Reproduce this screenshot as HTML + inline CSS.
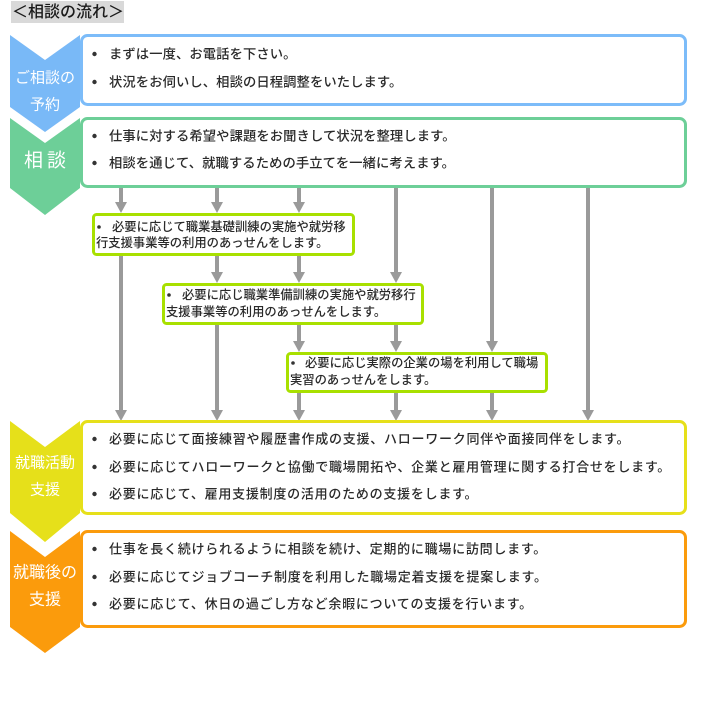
<!DOCTYPE html>
<html><head><meta charset="utf-8"><style>
html,body{margin:0;padding:0;background:#fff;}
svg{display:block;}
text{font-family:"Liberation Sans","Noto Sans CJK JP",sans-serif;}
</style></head><body>
<svg width="708" height="703" viewBox="0 0 708 703" xmlns="http://www.w3.org/2000/svg">
<!-- title -->
<rect x="11" y="1" width="113" height="22" fill="#d9d9d9"/>
<text x="12" y="12.5" font-size="16" fill="#1a1a1a" font-weight="500" dominant-baseline="central">＜相談の流れ＞</text>

<!-- arrows -->
<g stroke="#9a9a9a" stroke-width="4" fill="none">
<line x1="121" y1="188" x2="121" y2="203"/>
<line x1="121" y1="256" x2="121" y2="411"/>
<line x1="217" y1="188" x2="217" y2="203"/>
<line x1="217" y1="256" x2="217" y2="273"/>
<line x1="217" y1="325" x2="217" y2="411"/>
<line x1="299" y1="188" x2="299" y2="203"/>
<line x1="299" y1="256" x2="299" y2="273"/>
<line x1="299" y1="325" x2="299" y2="342"/>
<line x1="299" y1="393" x2="299" y2="411"/>
<line x1="396" y1="188" x2="396" y2="273"/>
<line x1="396" y1="325" x2="396" y2="342"/>
<line x1="396" y1="393" x2="396" y2="411"/>
<line x1="492" y1="188" x2="492" y2="342"/>
<line x1="492" y1="393" x2="492" y2="411"/>
<line x1="588" y1="188" x2="588" y2="411"/>
</g>
<g fill="#9a9a9a">
<polygon points="115,202 127,202 121,213"/>
<polygon points="115,410 127,410 121,421"/>
<polygon points="211,202 223,202 217,213"/>
<polygon points="211,272 223,272 217,283"/>
<polygon points="211,410 223,410 217,421"/>
<polygon points="293,202 305,202 299,213"/>
<polygon points="293,272 305,272 299,283"/>
<polygon points="293,341 305,341 299,352"/>
<polygon points="293,410 305,410 299,421"/>
<polygon points="390,272 402,272 396,283"/>
<polygon points="390,341 402,341 396,352"/>
<polygon points="390,410 402,410 396,421"/>
<polygon points="486,341 498,341 492,352"/>
<polygon points="486,410 498,410 492,421"/>
<polygon points="582,410 594,410 588,421"/>
</g>

<!-- chevrons -->
<polygon points="10,35 45,60 80,35 80,107 45,132 10,107" fill="#79b9f7"/>
<polygon points="10,118 45,143 80,118 80,188 45,215 10,188" fill="#6dcf98"/>
<polygon points="10,421 45,447 80,421 80,513 45,542 10,513" fill="#e6e01a"/>
<polygon points="10,531 45,557 80,531 80,627 45,653 10,627" fill="#fb9b0c"/>

<!-- main boxes -->
<rect x="81.5" y="35.5" width="604" height="69" rx="6" fill="#fff" stroke="#7cbcf9" stroke-width="3"/>
<rect x="81.5" y="118.5" width="604" height="68" rx="6" fill="#fff" stroke="#6dcf98" stroke-width="3"/>
<rect x="81.5" y="421.5" width="604" height="92" rx="6" fill="#fff" stroke="#e6e01a" stroke-width="3"/>
<rect x="81.5" y="531.5" width="604" height="95" rx="6" fill="#fff" stroke="#fb9b0c" stroke-width="3"/>

<!-- lime boxes -->
<rect x="93.5" y="214.5" width="260" height="40" rx="3" fill="#fff" stroke="#a8e000" stroke-width="3"/>
<rect x="163.5" y="284.5" width="259" height="39" rx="3" fill="#fff" stroke="#a8e000" stroke-width="3"/>
<rect x="287.5" y="353.5" width="259" height="38" rx="3" fill="#fff" stroke="#a8e000" stroke-width="3"/>

<!-- chevron labels -->
<g fill="#fff" text-anchor="middle" dominant-baseline="central">
<text x="45" y="78" font-size="15">ご相談の</text>
<text x="45" y="105" font-size="15">予約</text>
<text x="47" y="161" font-size="19" style="letter-spacing:4px">相談</text>
<text x="45" y="463" font-size="15">就職活動</text>
<text x="45" y="490" font-size="15">支援</text>
<text x="45" y="573" font-size="16">就職後の</text>
<text x="45" y="600" font-size="16">支援</text>
</g>

<!-- bullets -->
<g fill="#333">
<circle cx="94.5" cy="54" r="2.2"/><circle cx="94.5" cy="82" r="2.2"/>
<circle cx="94.5" cy="136" r="2.2"/><circle cx="94.5" cy="163" r="2.2"/>
<circle cx="94.5" cy="439" r="2.2"/><circle cx="94.5" cy="467" r="2.2"/><circle cx="94.5" cy="494" r="2.2"/>
<circle cx="94.5" cy="549" r="2.2"/><circle cx="94.5" cy="577" r="2.2"/><circle cx="94.5" cy="604" r="2.2"/>
<circle cx="99" cy="227" r="1.8"/>
<circle cx="169" cy="295" r="1.8"/>
<circle cx="293" cy="363" r="1.8"/>
</g>

<g fill="#2a2a2a" font-weight="500" dominant-baseline="central">
<g font-size="13.3" style="letter-spacing:0.1px">
<text x="109" y="54">まずは一度、お電話を下さい。</text>
<text x="109" y="82">状況をお伺いし、相談の日程調整をいたします。</text>
<text x="109" y="136">仕事に対する希望や課題をお聞きして状況を整理します。</text>
<text x="109" y="163">相談を通じて、就職するための手立てを一緒に考えます。</text>
</g>
<g font-size="13" style="letter-spacing:0.75px">
<text x="109" y="439">必要に応じて面接練習や履歴書作成の支援、ハローワーク同伴や面接同伴をします。</text>
<text x="109" y="467">必要に応じてハローワークと協働で職場開拓や、企業と雇用管理に関する打合せをします。</text>
<text x="109" y="494">必要に応じて、雇用支援制度の活用のための支援をします。</text>
<text x="109" y="549">仕事を長く続けられるように相談を続け、定期的に職場に訪問します。</text>
<text x="109" y="577">必要に応じてジョブコーチ制度を利用した職場定着支援を提案します。</text>
<text x="109" y="604">必要に応じて、休日の過ごし方など余暇についての支援を行います。</text>
</g>
<g font-size="12.3">
<text x="112" y="227">必要に応じて職業基礎訓練の実施や就労移</text>
<text x="96" y="243">行支援事業等の利用のあっせんをします。</text>
<text x="182" y="295">必要に応じ職業準備訓練の実施や就労移行</text>
<text x="166" y="312">支援事業等の利用のあっせんをします。</text>
<text x="305" y="363">必要に応じ実際の企業の場を利用して職場</text>
<text x="290" y="380">実習のあっせんをします。</text>
</g>
</g>
</svg>
</body></html>
